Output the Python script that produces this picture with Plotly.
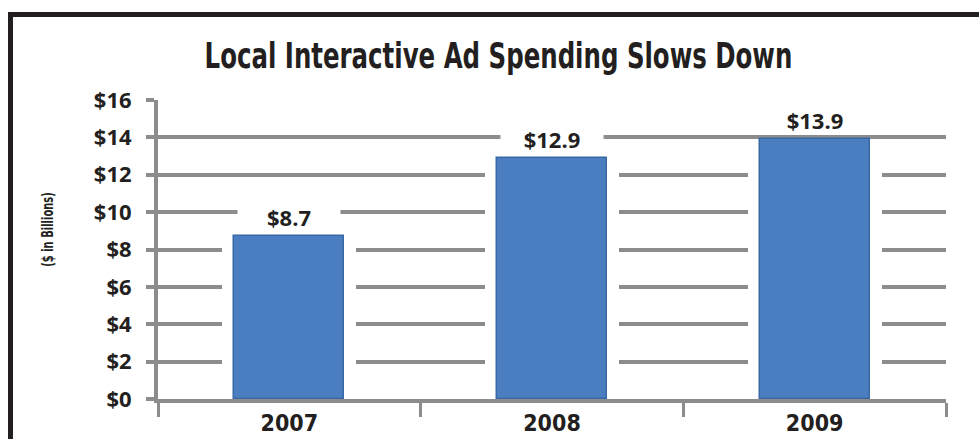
import plotly.graph_objects as go

# ---- data ----
years = ["2007", "2008", "2009"]
spending = [8.7, 12.9, 13.9]
value_labels = ["$8.7", "$12.9", "$13.9"]
tick_vals = [0, 2, 4, 6, 8, 10, 12, 14, 16]
tick_text = ["$0", "$2", "$4", "$6", "$8", "$10", "$12", "$14", "$16"]
title_text = "Local Interactive Ad Spending Slows Down"
y_title = "($ in Billions)"

W, H = 979, 439
L, R, T, B = 158, 33, 100, 40
PW, PH = W - L - R, H - T - B

def px_x(px):
    return (px - L) / PW

def px_y(py):
    return (H - B - py) / PH

NARROW = "DejaVu Sans Condensed, DejaVu Sans, sans-serif"
BOLDF = "Open Sans, Liberation Sans, Arial, sans-serif"
GRID = "#8c8c8c"
INK = "#231f20"

fig = go.Figure()
# white halo behind bars to interrupt grid lines
fig.add_trace(go.Bar(x=years, y=spending, width=0.51, marker=dict(color="white", line=dict(width=0)),
                     hoverinfo="skip", showlegend=False))
fig.add_trace(go.Bar(x=years, y=spending, width=0.42,
                     marker=dict(color="#4a7ec0", line=dict(color="#3a68a6", width=1.5)),
                     showlegend=False))

annotations = []
for i, (v, lab) in enumerate(zip(spending, value_labels)):
    annotations.append(dict(x=i, y=v, xref="x", yref="y", text="<b>%s</b>" % lab, showarrow=False,
                            yshift=19, yanchor="middle", bgcolor="white", width=100, height=24,
                            font=dict(family=BOLDF, size=22, color=INK)))

annotations.append(dict(x=px_x(498.5), y=px_y(55), xref="paper", yref="paper", text="<b>%s</b>" % title_text,
                        showarrow=False, xanchor="center", yanchor="middle",
                        font=dict(family=NARROW, size=36, color=INK)))
annotations.append(dict(x=px_x(48), y=px_y(230), xref="paper", yref="paper", text="<b>%s</b>" % y_title,
                        showarrow=False, textangle=-90, xanchor="center", yanchor="middle",
                        font=dict(family=NARROW, size=15, color=INK)))

fig.update_layout(
    width=W, height=H, margin=dict(l=L, r=R, t=T, b=B, autoexpand=False),
    paper_bgcolor="white", plot_bgcolor="white",
    barmode="overlay", bargap=0,
    annotations=annotations,
    shapes=[dict(type="rect", xref="paper", yref="paper",
                 x0=px_x(10.5), x1=px_x(1000), y0=px_y(14.5), y1=px_y(470),
                 line=dict(color=INK, width=5), fillcolor="rgba(0,0,0,0)", layer="below")],
    xaxis=dict(type="category", range=[-0.5, len(years) - 0.5], showline=True, linecolor=GRID,
               linewidth=4, ticks="outside", tickson="boundaries", ticklen=14, tickwidth=3,
               tickcolor=GRID, showgrid=False, layer="above traces",
               tickfont=dict(family=NARROW, size=23, color=INK, weight="bold"),
               ticklabelstandoff=0, fixedrange=True),
    yaxis=dict(range=[0, 16], tickvals=tick_vals, ticktext=["<b>%s</b>" % t for t in tick_text],
               showgrid=True, gridcolor=GRID, gridwidth=4, zeroline=False,
               showline=True, linecolor=GRID, linewidth=4, ticks="outside", ticklen=8, tickwidth=4,
               tickcolor=GRID, ticklabelstandoff=10,
               tickfont=dict(family=BOLDF, size=22, color=INK), fixedrange=True),
)

# narrow the condensed-style texts horizontally (emulates a condensed typeface)
post = """
(function(){
  var gd = document.getElementById('{plot_id}');
  function squeeze(){
    var texts = gd.querySelectorAll('text.annotation-text');
    texts.forEach(function(t){
      var s = t.textContent || '';
      var f = null;
      if (s.indexOf('Local') === 0) f = 0.755;
      else if (s.indexOf('Billions') >= 0) f = 0.74;
      if (!f) return;
      if (t.getAttribute('data-orig-tf') === null) t.setAttribute('data-orig-tf', t.getAttribute('transform') || '');
      var b = t.getBBox();
      var cx = b.x + b.width / 2;
      t.setAttribute('transform', t.getAttribute('data-orig-tf') + ' translate(' + cx + ',0) scale(' + f + ',1) translate(' + (-cx) + ',0)');
    });
  }
  squeeze();
  if (gd.on) gd.on('plotly_afterplot', squeeze);
})();
"""

fig.write_html("out.html", post_script=post)
